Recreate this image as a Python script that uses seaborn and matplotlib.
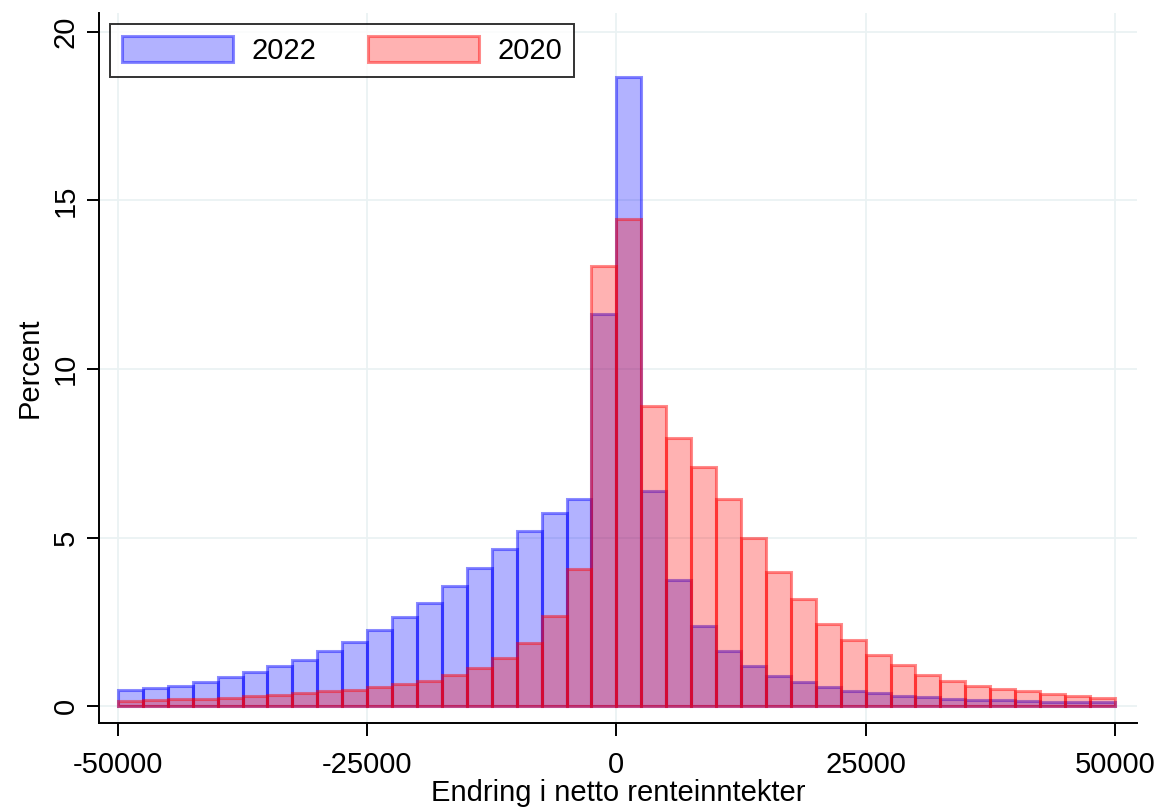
import numpy as np
import pandas as pd
import seaborn as sns
import matplotlib.pyplot as plt

sns.set_theme(style='white')
plt.rcParams['font.family'] = ['Liberation Sans', 'DejaVu Sans']
plt.rcParams['text.color'] = 'black'
plt.rcParams['axes.labelcolor'] = 'black'
plt.rcParams['xtick.color'] = 'black'
plt.rcParams['ytick.color'] = 'black'

# 2500-wide bins from -50000 to 50000 (40 bins)
bin_edges = np.arange(-50000, 50001, 2500)
bin_mid = bin_edges[:-1] + 1250

pct_2022 = [0.47, 0.53, 0.61, 0.73, 0.85, 1.01, 1.18, 1.37, 1.63, 1.90,
            2.25, 2.64, 3.07, 3.55, 4.11, 4.66, 5.19, 5.72, 6.15, 11.63,
            18.67, 6.38, 3.74, 2.38, 1.64, 1.19, 0.90, 0.71, 0.57, 0.45,
            0.38, 0.31, 0.27, 0.22, 0.19, 0.17, 0.15, 0.13, 0.12, 0.11]
pct_2020 = [0.15, 0.17, 0.20, 0.22, 0.25, 0.29, 0.33, 0.38, 0.44, 0.48,
            0.57, 0.66, 0.76, 0.93, 1.14, 1.44, 1.88, 2.68, 4.06, 13.04,
            14.46, 8.91, 7.94, 7.08, 6.15, 4.99, 3.98, 3.17, 2.44, 1.95,
            1.51, 1.22, 0.93, 0.76, 0.61, 0.50, 0.44, 0.35, 0.29, 0.24]

x_ticks = [-50000, -25000, 0, 25000, 50000]
y_ticks = [0, 5, 10, 15, 20]

df = pd.DataFrame({'mid': np.concatenate([bin_mid, bin_mid]),
                   'pct': pct_2022 + pct_2020,
                   'year': ['2022'] * len(bin_mid) + ['2020'] * len(bin_mid)})

fig = plt.figure(figsize=(11.6, 8.08), dpi=100)
ax = fig.add_axes([0.0853, 0.1052, 0.8947, 0.8788])

styles = {'2022': ((0, 0, 1, 0.3), (0, 0, 1, 0.45)),
          '2020': ((1, 0, 0, 0.3), (1, 0, 0, 0.45))}
for year in ['2022', '2020']:
    sub = df[df['year'] == year]
    face, edge = styles[year]
    sns.histplot(data=sub, x='mid', weights='pct', binwidth=2500,
                 binrange=(bin_edges[0], bin_edges[-1]),
                 facecolor=face, edgecolor=edge, linewidth=2.2,
                 label=year, ax=ax, zorder=2)

ax.set_xlim(-51906, 52207)
ax.set_ylim(-0.50, 20.56)
ax.set_xticks(x_ticks)
ax.set_xticklabels([str(t) for t in x_ticks])
ax.set_yticks(y_ticks)
ax.set_yticklabels([str(t) for t in y_ticks], rotation=90, va='center')
ax.grid(True, color='#eaf2f3', linewidth=1.3, zorder=0)
ax.set_axisbelow(True)

for side in ['top', 'right']:
    ax.spines[side].set_visible(False)
for side in ['left', 'bottom']:
    ax.spines[side].set_color('black')
    ax.spines[side].set_linewidth(1.4)

ax.tick_params(axis='both', which='major', direction='out', length=9,
               width=1.4, labelsize=21, pad=5, left=True, bottom=True)
ax.tick_params(axis='x', pad=11)
ax.set_xlabel('Endring i netto renteinntekter', fontsize=21, labelpad=0)
ax.set_ylabel('Percent', fontsize=21, labelpad=6)

leg = ax.legend(loc='upper left', bbox_to_anchor=(0.0106, 0.9845),
                borderaxespad=0, ncol=2, fontsize=21, frameon=True,
                fancybox=False, handlelength=3.8, handleheight=1.0,
                handletextpad=0.62, columnspacing=1.8, borderpad=0.42)
leg.get_frame().set_edgecolor('black')
leg.get_frame().set_linewidth(1.4)

fig.savefig('out.png', dpi=100)
